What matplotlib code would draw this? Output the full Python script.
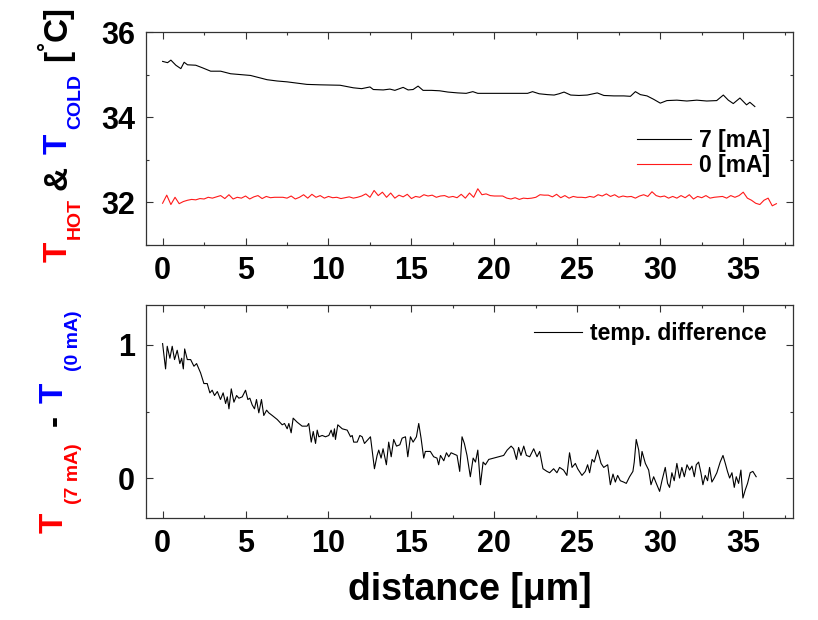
import matplotlib
matplotlib.use('Agg')
import matplotlib.pyplot as plt
from matplotlib.ticker import MultipleLocator
from matplotlib.transforms import IdentityTransform

plt.rcParams['font.family'] = ['Liberation Sans', 'DejaVu Sans']
plt.rcParams['font.weight'] = 'bold'

# ---------------- data ----------------
hot_x = [0.0, 0.3, 0.5, 0.8, 1.1, 1.3, 1.5, 2.0, 2.4, 2.9, 3.5, 4.1, 4.7, 5.3, 5.8, 6.3, 6.9, 7.5,
         8.1, 8.7, 9.5, 10.7, 11.1, 11.5, 12.0, 12.5, 12.7, 13.3, 13.7, 14.0, 14.5, 14.8, 15.1, 15.4,
         15.7, 16.2, 16.7, 17.2, 17.8, 18.3, 18.7, 19.0, 20.0, 21.0, 22.0, 22.3, 22.7, 23.2, 23.6,
         23.9, 24.2, 24.6, 25.1, 25.6, 26.2, 26.6, 27.2, 27.8, 28.2, 28.5, 28.8, 29.2, 29.6, 30.0,
         30.4, 31.0, 31.6, 32.2, 32.8, 33.4, 33.8, 34.1, 34.4, 34.8, 35.2, 35.4, 35.7]
hot_y = [35.31, 35.28, 35.34, 35.22, 35.14, 35.29, 35.23, 35.22, 35.16, 35.08, 35.08, 35.02, 35.00,
         34.98, 34.93, 34.88, 34.85, 34.83, 34.80, 34.77, 34.76, 34.75, 34.72, 34.69, 34.67, 34.71,
         34.65, 34.64, 34.66, 34.63, 34.70, 34.64, 34.65, 34.73, 34.63, 34.63, 34.62, 34.59, 34.57,
         34.56, 34.60, 34.56, 34.56, 34.56, 34.56, 34.60, 34.55, 34.53, 34.52, 34.55, 34.59, 34.52,
         34.51, 34.52, 34.57, 34.51, 34.50, 34.50, 34.49, 34.60, 34.53, 34.50, 34.42, 34.33, 34.39,
         34.40, 34.38, 34.40, 34.38, 34.39, 34.52, 34.40, 34.32, 34.45, 34.29, 34.35, 34.25]

cold_x = [0.0, 0.25, 0.5, 0.75, 1.0, 1.25, 1.5, 1.75, 2.0, 2.25, 2.5, 2.75, 3.0, 3.25, 3.5, 3.75,
          4.0, 4.25, 4.5, 4.75, 5.0, 5.25, 5.5, 5.75, 6.0, 6.25, 6.5, 6.75, 7.0, 7.25, 7.5, 7.75,
          8.0, 8.25, 8.5, 8.75, 9.0, 9.25, 9.5, 9.75, 10.0, 10.25, 10.5, 10.75, 11.0, 11.25, 11.5,
          11.75, 12.0, 12.25, 12.5, 12.75, 13.0, 13.25, 13.5, 13.75, 14.0, 14.25, 14.5, 14.75, 15.0,
          15.25, 15.5, 15.75, 16.0, 16.25, 16.5, 16.75, 17.0, 17.25, 17.5, 17.75, 18.0, 18.25, 18.5,
          18.75, 19.0, 19.25, 19.5, 19.75, 20.0, 20.25, 20.5, 20.75, 21.0, 21.25, 21.5, 21.75, 22.0,
          22.25, 22.5, 22.75, 23.0, 23.25, 23.5, 23.75, 24.0, 24.25, 24.5, 24.75, 25.0, 25.25, 25.5,
          25.75, 26.0, 26.25, 26.5, 26.75, 27.0, 27.25, 27.5, 27.75, 28.0, 28.25, 28.5, 28.75, 29.0,
          29.25, 29.5, 29.75, 30.0, 30.25, 30.5, 30.75, 31.0, 31.25, 31.5, 31.75, 32.0, 32.25, 32.5,
          32.75, 33.0, 33.25, 33.5, 33.75, 34.0, 34.25, 34.5, 34.75, 35.0, 35.25, 35.5, 35.75, 36.0,
          36.25, 36.5, 36.75, 37.0]
cold_y = [31.98, 32.17, 31.95, 32.12, 31.97, 32.02, 32.05, 32.07, 32.06, 32.09, 32.08, 32.12, 32.10,
          32.13, 32.16, 32.09, 32.18, 32.08, 32.12, 32.10, 32.15, 32.08, 32.13, 32.16, 32.09, 32.14,
          32.11, 32.12, 32.12, 32.12, 32.10, 32.15, 32.08, 32.12, 32.18, 32.10, 32.19, 32.12, 32.16,
          32.10, 32.14, 32.11, 32.12, 32.09, 32.11, 32.13, 32.10, 32.12, 32.15, 32.20, 32.12, 32.28,
          32.16, 32.24, 32.12, 32.22, 32.10, 32.17, 32.13, 32.19, 32.09, 32.14, 32.12, 32.18, 32.15,
          32.17, 32.12, 32.15, 32.16, 32.12, 32.14, 32.11, 32.19, 32.10, 32.22, 32.12, 32.32, 32.18,
          32.20, 32.16, 32.15, 32.15, 32.15, 32.10, 32.08, 32.11, 32.07, 32.10, 32.09, 32.10, 32.12,
          32.18, 32.17, 32.17, 32.13, 32.19, 32.11, 32.16, 32.10, 32.14, 32.12, 32.12, 32.11, 32.14,
          32.12, 32.18, 32.15, 32.20, 32.14, 32.18, 32.12, 32.15, 32.13, 32.14, 32.10, 32.15, 32.18,
          32.14, 32.25, 32.16, 32.13, 32.15, 32.10, 32.14, 32.10, 32.16, 32.11, 32.18, 32.08, 32.14,
          32.11, 32.16, 32.10, 32.12, 32.13, 32.14, 32.10, 32.16, 32.12, 32.16, 32.24, 32.10, 32.05,
          31.98, 31.95, 32.05, 32.10, 31.92, 31.97]

diff_x = [0.00, 0.18, 0.28, 0.44, 0.58, 0.72, 0.88, 1.04, 1.15, 1.25, 1.33, 1.49, 1.69, 1.89, 2.05,
          2.29, 2.49, 2.69, 2.85, 2.99, 3.13, 3.30, 3.49, 3.65, 3.80, 3.90, 4.00, 4.14, 4.30, 4.46,
          4.60, 4.80, 5.00, 5.14, 5.26, 5.40, 5.54, 5.66, 5.80, 5.96, 6.10, 6.27, 6.40, 6.61, 6.91,
          7.21, 7.35, 7.51, 7.61, 7.75, 7.87, 8.11, 8.41, 8.71, 8.81, 8.96, 9.08, 9.22, 9.32, 9.42,
          9.62, 9.82, 10.02, 10.16, 10.28, 10.36, 10.42, 10.56, 10.83, 11.13, 11.33, 11.43, 11.52,
          11.73, 11.89, 12.03, 12.17,
          12.53, 12.77, 12.93, 13.03, 13.17, 13.29, 13.49, 13.63, 13.78, 13.93, 14.10, 14.30, 14.44,
          14.64, 14.78, 14.94, 15.10, 15.30, 15.44, 15.58, 15.74, 15.84, 16.14, 16.34, 16.54, 16.64,
          16.75, 16.95, 17.11, 17.25, 17.39, 17.75, 17.91, 18.05, 18.19, 18.35, 18.55, 18.72, 18.86,
          19.00, 19.16, 19.32, 19.46, 19.66, 19.96, 20.26, 20.56, 20.77, 21.01, 21.16, 21.33, 21.46,
          21.60, 21.77, 21.93, 22.13, 22.37, 22.57, 22.73, 22.93, 23.17, 23.33, 23.57, 23.77, 23.93,
          24.17, 24.37, 24.53,
          24.68, 24.88, 25.02, 25.28, 25.48, 25.62, 25.74, 25.89, 26.02, 26.22, 26.43, 26.59, 26.83,
          26.99, 27.15, 27.29, 27.43, 27.59, 27.79, 27.95, 28.15, 28.35, 28.43, 28.55, 28.70, 28.80,
          28.90, 29.10, 29.30, 29.44, 29.60, 29.76, 29.96, 30.10, 30.30, 30.44, 30.56, 30.70, 30.84,
          31.00, 31.16, 31.30, 31.45, 31.61, 31.77, 31.91, 32.05, 32.17, 32.31, 32.45, 32.57, 32.71,
          32.85, 32.97, 33.11, 33.25, 33.41, 33.61, 33.78, 33.92, 34.05, 34.18, 34.32, 34.46, 34.58,
          34.72, 34.86, 34.98, 35.12, 35.26, 35.42, 35.58, 35.78]
diff_y = [1.01, 0.82, 0.99, 0.90, 0.99, 0.89, 0.96, 0.86, 0.90, 0.82, 0.97, 0.89, 0.89, 0.84, 0.86,
          0.79, 0.71, 0.71, 0.64, 0.66, 0.62, 0.65, 0.59, 0.64, 0.56, 0.61, 0.52, 0.67, 0.57, 0.62,
          0.60, 0.61, 0.66, 0.59, 0.60, 0.55, 0.52, 0.59, 0.49, 0.59, 0.47, 0.51, 0.49, 0.47, 0.44,
          0.40, 0.41, 0.37, 0.41, 0.34, 0.45, 0.42, 0.39, 0.39, 0.41, 0.27, 0.35, 0.26, 0.36, 0.31,
          0.32, 0.31, 0.32, 0.36, 0.31, 0.37, 0.29, 0.40, 0.37, 0.36, 0.31, 0.32, 0.27, 0.27, 0.32,
          0.31, 0.26,
          0.31, 0.07, 0.17, 0.21, 0.15, 0.22, 0.10, 0.27, 0.16, 0.29, 0.24, 0.25, 0.30, 0.31, 0.16,
          0.31, 0.27, 0.31, 0.41, 0.30, 0.15, 0.20, 0.20, 0.16, 0.15, 0.10, 0.17, 0.13, 0.19, 0.16,
          0.19, 0.17, 0.05, 0.31, 0.26, 0.17, 0.01, 0.15, 0.12, 0.21, -0.05, 0.12, 0.10, 0.14, 0.15,
          0.16, 0.17, 0.21, 0.24, 0.22, 0.14, 0.23, 0.17, 0.24, 0.17, 0.16, 0.22, 0.16, 0.20, 0.07,
          0.05, 0.04, 0.07, 0.04, 0.08, 0.06, 0.02, 0.19,
          0.08, 0.11, 0.07, 0.02, 0.05, 0.10, 0.04, 0.14, 0.12, 0.21, 0.11, 0.08, 0.10, -0.05, 0.03,
          -0.03, 0.02, -0.02, -0.03, -0.04, 0.01, 0.05, 0.12, 0.29, 0.21, 0.09, 0.20, 0.11, 0.06,
          -0.05, 0.01, -0.04, -0.10, -0.02, 0.08, -0.04, -0.07, 0.04, -0.02, 0.11, 0.00, 0.08, 0.01,
          0.10, 0.06, 0.09, 0.01, 0.10, 0.12, 0.04, -0.05, 0.02, -0.02, 0.08, -0.03, 0.00, 0.04,
          0.12, 0.17, 0.11, 0.05, 0.00, 0.04, -0.07, 0.01, -0.04, 0.06, -0.15, -0.09, -0.04, 0.04,
          0.05, 0.01]

hot_label = '7 [mA]'
cold_label = '0 [mA]'
diff_label = 'temp. difference'
x_label = 'distance [\u03bcm]'
x_ticks = [0, 5, 10, 15, 20, 25, 30, 35]
top_yticks = [32, 34, 36]
bot_yticks = [0, 1]

# ---------------- figure ----------------
W, H = 818, 620
fig = plt.figure(figsize=(W / 100, H / 100), dpi=100)
ax1 = fig.add_axes([146 / W, 375 / H, 647 / W, 213 / H])
ax2 = fig.add_axes([146 / W, 102 / H, 647 / W, 213 / H])

for ax in (ax1, ax2):
    ax.set_xlim(-1, 38)
    ax.set_xticks(x_ticks)
    ax.xaxis.set_minor_locator(MultipleLocator(2.5))
    ax.tick_params(which='both', direction='in', top=True, right=True,
                   labelsize=22, pad=8, width=0.8, color='#333333')
    ax.tick_params(which='major', length=5)
    ax.tick_params(which='minor', length=2.5)
    for s in ax.spines.values():
        s.set_linewidth(0.9)
        s.set_color('#333333')

ax1.plot(hot_x, hot_y, color='black', lw=0.8, label=hot_label)
ax1.plot(cold_x, cold_y, color='#ff1a1a', lw=0.8, label=cold_label)
ax1.set_ylim(31.0, 36.0)
ax1.set_yticks(top_yticks)
ax1.yaxis.set_minor_locator(MultipleLocator(1))
ax1.legend(loc='upper right', bbox_to_anchor=(0.9645, 0.545), frameon=False,
           prop={'size': 16.5, 'weight': 'bold'}, handlelength=2.35, handletextpad=0.35,
           labelspacing=0.1, borderaxespad=0, borderpad=0)

ax2.plot(diff_x, diff_y, color='black', lw=0.8, label=diff_label)
ax2.set_ylim(-0.3, 1.3)
ax2.set_yticks(bot_yticks)
ax2.yaxis.set_minor_locator(MultipleLocator(0.5))
ax2.legend(loc='upper right', bbox_to_anchor=(0.960, 0.92), frameon=False,
           prop={'size': 16.5, 'weight': 'bold'}, handlelength=2.1, handletextpad=0.35,
           borderaxespad=0, borderpad=0)
ax2.set_xlabel(x_label, fontsize=27, fontweight='bold', labelpad=9)

# ---------------- multicoloured rotated y labels ----------------
renderer = fig.canvas.get_renderer()


def stacked_label(pieces, x0, y0):
    y = y0
    for txt, color, size, dx, gap in pieces:
        y += gap
        t = fig.text(x0 + dx, y, txt, transform=IdentityTransform(), rotation=90,
                     rotation_mode='anchor', ha='left', va='baseline',
                     color=color, fontsize=size, fontweight='bold')
        bb = t.get_window_extent(renderer)
        y = bb.y1


RED, BLUE, BLK = '#ff0000', '#0000ff', 'black'
stacked_label([
    ('T', RED, 24, 0, 0),
    ('HOT', RED, 14, 13, 3),
    ('&', BLK, 24, 0, 7),
    ('T', BLUE, 24, 0, 12),
    ('COLD', BLUE, 14, 13, 5),
    ('[', BLK, 24, 0, 13),
    ('\u00b0', BLK, 16, -14, 0),
    ('C]', BLK, 24, 0, 0),
], 67, H - 262)

stacked_label([
    ('T', RED, 24, 0, 0),
    ('(7 mA)', RED, 14, 15, 9),
    ('-', BLK, 24, 1, 17),
    ('T', BLUE, 24, 0, 12),
    ('(0 mA)', BLUE, 14, 15, 11),
], 63, H - 533)

fig.savefig('out.png', dpi=100)
